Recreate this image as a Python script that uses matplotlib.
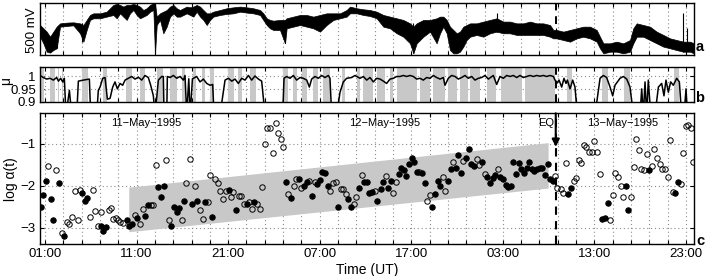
import matplotlib
matplotlib.use("Agg")
import matplotlib.pyplot as plt
from matplotlib.ticker import FixedLocator
import numpy as np

plt.rcParams['font.family'] = ['Liberation Sans', 'DejaVu Sans']

# ---------------- data ----------------
# time axis: hours since 11-May-1995 00:00 UT
xlim_h = (0.45, 71.88)
major_hours = [1, 11, 21, 31, 41, 51, 61, 71]
major_labels = ['01:00', '11:00', '21:00', '07:00', '17:00', '03:00', '13:00', '23:00']
minor_hours = list(range(1, 72, 2))
eq_hour = 56.78

# panel a: signal envelope (mV, panel spans 500 mV)
a_hours = [0.45, 0.82, 1.18, 1.55, 1.91, 2.27, 2.64, 3.37, 4.09, 4.82, 5.19, 5.55, 5.91, 6.28, 7.01,
           7.73, 8.46, 8.83, 9.19, 9.55, 9.92, 10.28, 10.65, 11.01, 11.37, 11.74, 12.1, 12.47, 12.83,
           13.01, 13.2, 13.56, 13.92, 14.29, 14.65, 15.02, 15.38, 15.74, 16.11, 16.47, 16.84, 17.2,
           17.56, 17.93, 18.29, 18.66, 19.02, 19.38, 20.11, 20.84, 21.57, 22.3, 23.02, 23.75, 24.48,
           24.84, 25.21, 25.57, 25.94, 26.66, 27.21, 27.39, 28.12, 28.85, 29.58, 30.3, 31.03, 31.76,
           32.49, 33.22, 33.94, 34.31, 35.04, 35.77, 36.49, 37.22, 37.95, 38.68, 39.41, 40.13, 40.86,
           41.23, 41.59, 42.32, 43.05, 43.77, 44.14, 44.5, 44.87, 45.23, 45.6, 45.96, 46.32, 46.69,
           47.05, 47.42, 48.14, 48.87, 49.6, 50.33, 51.06, 51.78, 52.51, 53.24, 53.97, 54.7, 55.42,
           56.15, 56.52, 56.88, 57.61, 58.34, 59.07, 59.79, 60.52, 61.25, 61.61, 61.98, 62.71, 63.43,
           64.16, 64.89, 65.25, 65.62, 66.35, 67.07, 67.8, 68.53, 69.26, 69.98, 70.71, 71.44, 71.88]
a_upper = [290, 258, 226, 177, 226, 274, 306, 313, 316, 306, 290, 339, 387, 403, 403,
           419, 484, 494, 484, 468, 484, 484, 494, 484, 468, 435, 452, 484, 500,
           500, 371, 403, 419, 435, 468, 484, 452, 435, 452, 468, 461, 468,
           484, 468, 435, 403, 403, 419, 435, 452, 461, 468, 461, 452, 435,
           403, 355, 339, 332, 339, 339, 355, 371, 387, 387, 371, 387, 403,
           403, 403, 435, 468, 452, 442, 435, 419, 387, 371, 355, 339, 306,
           274, 306, 339, 339, 355, 371, 371, 339, 274, 242, 210, 226, 274,
           290, 306, 306, 323, 339, 355, 323, 323, 306, 306, 323, 306, 306,
           290, 242, 242, 226, 242, 258, 274, 274, 242, 177, 113, 113, 129,
           113, 145, 258, 306, 290, 274, 226, 194, 161, 145, 129, 129, 113]
a_lower = [177, 113, 32, 23, 48, 65, 274, 281, 287, 210, 129, 242, 339, 355, 355,
           371, 387, 355, 403, 371, 339, 403, 435, 387, 355, 371, 387, 419, 435,
           16, 290, 339, 210, 274, 371, 403, 371, 371, 387, 403, 387, 371,
           419, 371, 339, 290, 339, 371, 387, 397, 403, 419, 410, 403, 387,
           339, 290, 258, 242, 242, 113, 258, 274, 290, 274, 258, 226, 290,
           339, 355, 371, 403, 403, 387, 377, 355, 274, 258, 210, 177, 113,
           16, 113, 177, 226, 113, 210, 274, 210, 48, 16, 16, 32, 81,
           145, 177, 194, 177, 210, 226, 210, 210, 194, 194, 194, 194, 194,
           177, 161, 161, 145, 129, 161, 177, 161, 129, 65, 16, 32, 32,
           16, 32, 113, 177, 177, 145, 113, 81, 65, 48, 32, 32, 16]
a_spike_hours = [2.35, 5.0, 13.01, 27.21, 41.23, 50.33, 56.8, 70.71, 71.1]
a_spike_low = [65, 129, 16, 113, 16, 226, 161, 32, 40]
a_spike_high = [274, 306, 500, 339, 306, 403, 258, 403, 260]

# panel b: fit quality curve
b_hours = [0.45, 0.82, 1.18, 1.55, 1.91, 2.27, 2.46, 2.71, 2.93, 3.11, 3.29, 3.66, 3.91, 4.46, 4.64,
           5.19, 5.84, 5.99, 6.64, 6.82, 7.01, 7.3, 7.55, 7.81, 8.1, 8.39, 8.64, 8.9, 9.19, 9.48,
           9.74, 10.1, 10.46, 10.83, 11.19, 11.56, 11.92, 12.28, 12.54, 12.83, 13.01, 13.38, 13.74,
           13.92, 14.0, 14.29, 14.36, 14.65, 15.02, 15.38, 15.74, 16.11, 16.29, 16.47, 16.7, 16.85,
           17.1, 17.56, 17.93, 18.29, 18.66, 19.02, 19.31, 19.46, 20.11, 20.66, 21.02, 21.39, 21.75,
           22.11, 22.48, 22.84, 23.21, 23.57, 23.93, 24.3, 24.66, 25.03, 26.96, 27.1, 27.39, 27.76,
           28.12, 28.48, 28.85, 29.21, 29.58, 29.87, 30.12, 30.49, 30.85, 31.21, 31.58, 31.94, 32.12,
           32.31, 32.85, 33.22, 33.58, 33.94, 34.49, 34.85, 35.4, 35.77, 36.13, 36.49, 36.86, 37.22,
           37.59, 37.95, 38.31, 38.68, 39.04, 39.41, 39.77, 40.13, 40.5, 40.86, 41.23, 41.59, 41.95,
           42.32, 42.68, 43.05, 43.41, 43.77, 44.14, 44.5, 44.68, 45.05, 45.41, 45.78, 46.14, 46.5,
           46.87, 47.23, 47.6, 47.96, 48.32, 48.69, 49.05, 49.42, 49.96, 50.33, 50.69, 51.06, 51.42,
           51.79, 52.15, 52.51, 52.88, 53.24, 53.61, 53.97, 54.33, 54.7, 55.06, 55.43, 55.79, 56.15,
           56.52, 56.88, 57.14, 57.43, 57.68, 57.9, 58.05, 58.34, 58.63, 58.88, 59.14, 61.07, 61.62,
           61.98, 62.34, 62.71, 63.0, 63.25, 63.51, 63.8, 64.16, 64.53, 64.89, 65.26, 65.98, 66.17,
           66.35, 66.53, 66.71, 66.89, 67.15, 67.62, 67.99, 68.35, 68.6, 68.82, 69.08, 69.33, 69.62,
           69.99, 70.28, 70.53, 70.79, 71.01, 71.16, 71.88]
b_values = [1.003, 0.995, 0.989, 0.992, 0.985, 0.995, 0.981, 0.992, 0.978, 0.992, 0.85, 0.945, 0.85, 0.85, 0.981,
            0.985, 0.989, 0.85, 0.85, 0.945, 0.958, 0.992, 0.995, 0.911, 0.914, 0.958, 0.978, 0.951, 0.972, 0.965,
            0.985, 0.992, 0.999, 0.989, 0.996, 0.985, 1.003, 0.995, 0.965, 0.924, 0.85, 0.985, 0.999,
            0.999, 0.85, 0.85, 0.999, 0.995, 1.003, 0.992, 0.999, 0.985, 1.003, 0.85, 0.990, 0.85,
            0.990, 0.999, 0.978, 0.989, 0.972, 0.965, 0.968, 0.85, 0.85, 0.985, 0.992, 0.981, 0.989,
            0.972, 0.992, 0.985, 1.003, 0.985, 1.001, 0.989, 0.981, 0.85, 0.85, 0.992, 0.999, 0.992,
            1.003, 0.985, 0.995, 0.992, 0.985, 0.958, 0.989, 0.999, 0.992, 1.003, 0.995, 1.003, 0.992,
            0.85, 0.85, 0.938, 0.978, 0.992, 0.995, 1.003, 0.992, 0.999, 0.985, 0.995, 0.978, 0.992,
            0.989, 0.981, 0.972, 0.989, 0.992, 0.999, 0.999, 1.003, 0.999, 1.003, 0.999, 0.989, 0.992,
            0.985, 0.995, 0.992, 1.003, 0.995, 0.989, 0.995, 0.965, 0.992, 1.003, 0.999, 0.989, 0.995,
            1.003, 0.992, 0.999, 0.985, 0.992, 0.995, 1.003, 0.989, 1.003, 0.968, 0.999, 0.992, 1.003,
            0.999, 1.003, 0.995, 1.003, 0.995, 0.999, 1.003, 0.999, 1.003, 1.000, 1.003, 0.999, 1.003,
            0.999, 0.972, 0.985, 0.958, 0.992, 0.972, 0.985, 0.951, 0.985, 0.958, 0.85, 0.85, 0.992,
            1.003, 0.995, 0.958, 0.924, 0.965, 0.978, 0.992, 0.999, 0.989, 0.958, 0.85, 0.85, 0.951,
            0.85, 0.978, 0.85, 0.985, 0.85, 0.85, 0.958, 0.972, 0.924, 0.985, 0.938, 0.978, 0.965,
            0.992, 0.978, 0.85, 0.85, 0.951, 0.85, 0.85]
b_band_start = [0.45, 1.55, 2.38, 2.82, 5.0, 7.37, 9.85, 11.37, 13.2, 14.65, 15.93, 17.13, 18.11, 19.02,
                21.02, 22.11, 23.39, 27.03, 28.12, 29.03, 30.3, 31.4, 33.4, 35.04, 35.77, 37.22, 38.68,
                39.41, 41.95, 43.41, 45.05, 46.32, 47.41, 49.23, 50.77, 53.42, 58.05, 61.8, 64.24, 69.7]
b_band_end = [0.89, 2.09, 2.57, 3.0, 5.73, 7.81, 10.46, 11.92, 13.92, 15.38, 16.29, 17.49, 18.47, 19.46,
              21.64, 22.48, 24.04, 27.57, 28.56, 29.58, 30.85, 32.12, 33.76, 35.4, 36.86, 38.13, 39.04,
              41.59, 43.05, 44.68, 45.96, 47.23, 48.51, 50.26, 53.06, 56.7, 58.52, 62.53, 64.89, 70.28]

# panel c: log alpha(t)
open_hours = [1.36, 2.24, 2.82, 3.36, 3.65, 3.95, 4.24, 4.56, 4.82, 5.95, 6.2, 6.49, 6.82, 7.07, 7.95,
              8.2, 8.45, 8.78, 9.0, 9.22, 9.51, 10.78, 11.36, 11.65, 12.53, 12.82, 13.07, 14.2, 14.49,
              15.95, 16.45, 16.78, 17.33, 17.91, 18.2, 18.78, 19.0, 19.58, 19.87, 20.16, 20.45, 20.75,
              21.33, 21.58, 22.16, 22.42, 22.75, 23.33, 23.62, 24.16, 24.45, 24.75, 25.04, 25.29, 25.58,
              25.87, 26.2, 26.45, 26.75, 27.0, 27.58, 28.16, 28.45, 29.0, 29.87, 30.45, 32.16, 32.42,
              32.75, 33.29, 33.58, 33.84, 34.71, 35.0, 35.58, 37.0, 38.2, 39.04, 39.33, 41.88, 42.75,
              43.04, 44.46, 44.72, 45.59, 46.68, 48.14, 48.43, 49.01, 50.43, 56.66, 56.95, 57.32, 57.57,
              57.87, 58.74, 58.99, 59.28, 59.54, 59.87, 60.12, 60.41, 60.7, 61.0, 61.29, 61.58, 62.71,
              63.0, 63.29, 63.58, 63.87, 64.13, 65.0, 65.29, 65.58, 65.87, 66.13, 66.42, 66.71, 67.29,
              67.55, 67.84, 68.13, 68.42, 68.71, 69.0, 69.29, 69.55, 70.42, 70.72, 70.97, 71.26, 71.55,
              71.81]
open_values = [-1.54, -1.64, -3.13, -2.87, -2.92, -2.75, -2.12, -2.83, -2.10, -2.74, -2.10, -2.61, -2.96,
               -2.63, -2.59, -2.53, -2.79, -2.77, -2.83, -2.87, -2.88, -2.69, -2.92, -2.56, -2.47, -2.46,
               -1.51, -1.38, -2.83, -2.81, -1.94, -1.37, -2.02, -2.57, -2.79, -2.38, -1.74, -1.84, -1.94,
               -2.13, -2.32, -2.12, -2.26, -2.16, -2.25, -2.25, -2.43, -2.38, -2.55, -2.43, -2.55, -2.03,
               -1.0, -0.62, -0.62, -1.23, -0.51, -0.74, -0.89, -1.09, -2.20, -2.02, -1.85, -2.06, -1.88,
               -1.91, -2.14, -1.94, -1.91, -2.07, -2.07, -2.21, -2.43, -2.26, -1.74, -2.12, -1.77, -2.17,
               -1.92, -1.67, -2.36, -2.22, -1.79, -2.13, -1.45, -1.42, -1.37, -1.51, -1.72, -1.60, -1.77,
               -2.06, -2.07, -2.17, -1.47, -1.88, -1.82, -1.39, -1.47, -1.04, -1.08, -1.19, -1.19, -0.93,
               -1.20, -1.72, -2.81, -2.22, -1.69, -1.79, -2.02, -2.28, -2.28, -1.55, -0.90, -1.15, -1.60,
               -1.64, -1.26, -1.54, -1.14, -1.34, -1.49, -1.60, -1.60, -1.80, -0.92, -2.15, -1.96, -1.22,
               -0.59, -0.56, -0.62, -1.45]
filled_hours = [0.53, 0.82, 1.11, 1.65, 1.91, 2.53, 3.07, 5.07, 5.36, 5.62, 7.07, 7.36, 7.65, 9.91, 10.2,
                10.49, 11.07, 11.95, 12.24, 13.36, 13.62, 13.95, 14.78, 15.07, 15.36, 15.62, 16.2, 17.07,
                17.62, 18.49, 19.29, 21.04, 21.87, 23.04, 23.87, 27.29, 27.87, 28.71, 29.29, 29.58, 30.16,
                30.71, 31.0, 31.29, 31.55, 31.87, 33.0, 34.13, 34.45, 35.29, 35.87, 36.13, 36.42, 36.71,
                37.29, 37.65, 37.87, 38.46, 38.75, 39.62, 39.88, 40.17, 40.46, 40.75, 41.04, 41.3, 41.59,
                42.17, 42.46, 43.3, 43.59, 43.88, 44.17, 45.01, 45.3, 45.88, 46.14, 46.43, 47.01, 47.3,
                47.56, 47.85, 48.72, 49.3, 49.6, 49.89, 50.18, 50.72, 51.01, 51.31, 51.56, 51.85, 52.14,
                52.43, 52.73, 53.02, 53.27, 53.6, 53.85, 54.15, 54.44, 54.73, 55.02, 55.31, 55.57, 55.89,
                56.15, 56.45, 58.16, 58.45, 61.87, 62.16, 62.45, 64.45, 64.71, 67.0, 69.84, 70.13]
filled_values = [-2.51, -2.22, -1.88, -2.33, -2.81, -1.94, -3.19, -2.17, -2.36, -2.29, -2.97, -3.08, -2.99,
                 -2.83, -2.96, -2.92, -2.77, -2.73, -2.47, -2.04, -2.28, -2.02, -2.97, -2.51, -2.63, -2.54,
                 -2.37, -2.45, -2.36, -2.40, -2.75, -2.10, -2.58, -2.43, -2.39, -1.91, -2.29, -1.85, -2.02,
                 -1.91, -2.25, -1.96, -1.86, -1.67, -1.71, -2.02, -2.51, -2.32, -2.51, -2.06, -1.92, -1.92,
                 -2.18, -2.16, -2.37, -2.08, -1.92, -2.06, -1.88, -1.72, -1.57, -1.64, -1.77, -1.49, -1.34,
                 -1.45, -1.68, -1.69, -1.93, -2.50, -2.20, -1.88, -2.02, -1.88, -1.61, -1.57, -1.27, -1.71,
                 -1.34, -1.13, -1.49, -1.54, -1.45, -1.79, -1.94, -1.83, -1.76, -1.79, -1.85, -1.99, -2.04,
                 -2.01, -1.43, -1.72, -1.47, -1.60, -1.71, -1.57, -1.45, -1.61, -1.66, -1.61, -1.57, -1.59,
                 -1.74, -1.49, -1.84, -1.90, -2.20, -2.06, -2.79, -2.77, -2.41, -2.01, -2.58, -1.64, -2.17,
                 -1.91]
trend_hours = [10.2, 10.2, 56.0, 56.0]
trend_values = [-3.11, -2.05, -0.99, -2.07]
date_labels = ['11\u2212May\u22121995', '12\u2212May\u22121995', '13\u2212May\u22121995']
date_hours = [12.1, 38.1, 64.1]

# ---------------- figure ----------------
W, H = 711, 276
fig = plt.figure(figsize=(W / 100, H / 100), dpi=100)
L, R = 40 / W, 694 / W

def frac(top, bottom):
    return [L, 1 - bottom / H, R - L, (bottom - top) / H]

ax_a = fig.add_axes(frac(3.3, 55))
ax_b = fig.add_axes(frac(66.7, 102))
ax_c = fig.add_axes(frac(113.3, 244))

grid_kw = dict(color='#8c8c8c', linestyle=(0, (1, 2.5)), linewidth=0.8)
for ax in (ax_a, ax_b, ax_c):
    ax.set_xlim(*xlim_h)
    ax.xaxis.set_major_locator(FixedLocator(major_hours))
    ax.xaxis.set_minor_locator(FixedLocator(minor_hours))
    ax.tick_params(which='both', direction='in', top=True, right=True, length=3.2, width=0.8,
                   labelsize=9.5, pad=3)
    ax.grid(True, which='both', axis='x', **grid_kw)
    for s in ax.spines.values():
        s.set_linewidth(1.0)
    ax.set_axisbelow(True)

# panel a
ax_a.fill_between(a_hours, a_lower, a_upper, color='black', linewidth=0.5, zorder=3)
ax_a.vlines(a_spike_hours, a_spike_low, a_spike_high, color='black', linewidth=0.8, zorder=3)
ax_a.set_ylim(0, 500)
ax_a.set_yticks([])
ax_a.tick_params(axis='x', labelbottom=False)
ax_a.axvline(eq_hour, ymin=0.6, ymax=1.0, color='black', lw=1.4, ls=(0, (4, 3)), zorder=4)

# panel b
for s0, s1 in zip(b_band_start, b_band_end):
    ax_b.axvspan(s0, s1, color='#c8c8c8', lw=0, zorder=1)
ax_b.plot(b_hours, b_values, color='black', lw=1.1, zorder=3)
ax_b.set_ylim(0.9, 1.037)
ax_b.set_yticks([0.9, 0.95, 1.0])
ax_b.set_yticklabels(['0.9', '0.95', '1'])
ax_b.yaxis.set_minor_locator(FixedLocator([]))
ax_b.grid(True, which='major', axis='y', **grid_kw)
ax_b.tick_params(axis='x', labelbottom=False)
ax_b.axvline(eq_hour, color='black', lw=1.4, ls=(0, (4, 3)), zorder=4)

# panel c
ax_c.fill(trend_hours, trend_values, color='#c8c8c8', lw=0, zorder=1)
ax_c.plot(open_hours, open_values, 'o', ms=3.9, mfc='none', mec='black', mew=0.7, zorder=3)
ax_c.plot(filled_hours, filled_values, 'o', ms=3.9, mfc='black', mec='black', mew=0.7, zorder=3)
ax_c.set_ylim(-3.39, -0.28)
ax_c.set_yticks([-3, -2, -1])
ax_c.grid(True, which='major', axis='y', **grid_kw)
ax_c.set_xticklabels(major_labels)
ax_c.axvline(eq_hour, color='black', lw=1.5, ls=(0, (4, 3)), zorder=4)
ax_c.annotate('', xy=(eq_hour, -1.08), xytext=(eq_hour, -0.28),
              arrowprops=dict(arrowstyle='-|>', color='black', lw=1.5, mutation_scale=11,
                              shrinkA=0, shrinkB=0), zorder=5)
for lab, hh in zip(date_labels, date_hours):
    ax_c.text(hh, -0.52, lab, ha='center', va='center', fontsize=8)
ax_c.text(55.7, -0.52, 'EQ', ha='center', va='center', fontsize=8)
ax_c.set_ylabel('log \u03b1(t)', fontsize=10, labelpad=2)

# labels
fig.text(32 / W, 1 - 30 / H, '500 mV', rotation=90, ha='center', va='center', fontsize=9.5)
fig.text(6 / W, 1 - 81 / H, '\u03bc', rotation=90, ha='center', va='center', fontsize=10)
fig.text(0.516, 1 - 263 / H, 'Time (UT)', ha='center', va='top', fontsize=10)
fig.text(700 / W, 1 - 47 / H, 'a', ha='center', va='center', fontsize=10.5, fontweight='bold')
fig.text(700 / W, 1 - 98 / H, 'b', ha='center', va='center', fontsize=10.5, fontweight='bold')
fig.text(700 / W, 1 - 241 / H, 'c', ha='center', va='center', fontsize=10.5, fontweight='bold')

fig.savefig('out.png', dpi=100)
